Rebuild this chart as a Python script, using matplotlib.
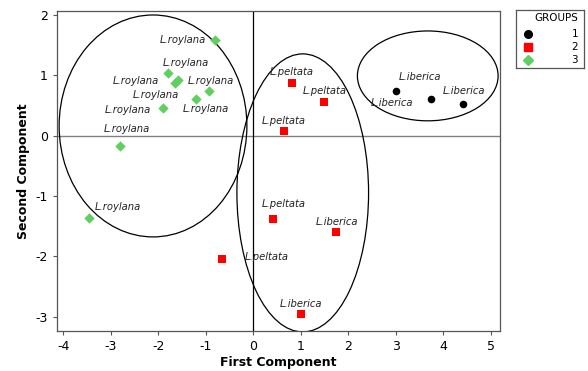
import matplotlib
matplotlib.use("Agg")
import matplotlib.pyplot as plt
from matplotlib.patches import Ellipse

plt.rcParams['font.family'] = ['DejaVu Sans']
plt.rcParams['axes.unicode_minus'] = False

# Group 1 (black circles)
g1_x = [3.00, 3.74, 4.42]
g1_y = [0.74, 0.61, 0.52]
g1_lab = ["L.iberica", "L.iberica", "L.iberica"]
# Group 2 (red squares)
g2_x = [-0.65, 0.81, 1.48, 0.64, 0.41, 1.75, 1.01]
g2_y = [-2.05, 0.87, 0.55, 0.07, -1.38, -1.60, -2.96]
g2_lab = ["L.peltata", "L.peltata", "L.peltata", "L.peltata", "L.peltata", "L.iberica", "L.iberica"]
# Group 3 (green diamonds)
g3_x = [-0.81, -1.79, -1.65, -1.58, -0.93, -1.20, -1.91, -2.80, -3.45]
g3_y = [1.585, 1.04, 0.87, 0.92, 0.74, 0.60, 0.45, -0.18, -1.36]
g3_lab = ["L.roylana"] * 9

# label offsets in pixels (dx right, dy up)
g1_off = [(-4, -12), (-11, 22), (1, 13)]
g2_off = [(44, 2), (0, 11), (1, 11), (0, 10), (11, 15), (0, 10), (0, 10)]
g3_off = [(-32, 0), (18, 10), (-39, 2), (-22, -15), (2, 10), (10, -10), (-35, -2), (7, 17), (29, 11)]

xticks = [-4, -3, -2, -1, 0, 1, 2, 3, 4, 5]
yticks = [-3, -2, -1, 0, 1, 2]

fig = plt.figure(figsize=(5.88, 3.71), dpi=100)
ax = fig.add_axes([57/588, 40/371, 443/588, 320/371])
ax.set_xlim(-4.13, 5.19)
ax.set_ylim(-3.24, 2.066)

ax.axhline(0, color='#808080', lw=1.0, zorder=1)
ax.axvline(0, color='black', lw=0.9, zorder=1)

ellipses = [((-2.11, 0.16), 3.95, 3.68), ((1.04, -0.95), 2.77, 4.61), ((3.67, 0.99), 2.96, 1.49)]
for (c, w, h) in ellipses:
    ax.add_patch(Ellipse(c, w, h, fill=False, ec='black', lw=0.9, zorder=2))

ax.scatter(g1_x, g1_y, marker='o', s=30, c='black', zorder=3, linewidths=0)
ax.scatter(g2_x, g2_y, marker='s', s=36, c='#ff0000', zorder=3, linewidths=0)
ax.scatter(g3_x, g3_y, marker='D', s=28, c='#5fcf5f', zorder=3, linewidths=0)

for xs, ys, labs, offs in [(g1_x, g1_y, g1_lab, g1_off), (g2_x, g2_y, g2_lab, g2_off), (g3_x, g3_y, g3_lab, g3_off)]:
    for x, y, l, o in zip(xs, ys, labs, offs):
        ax.annotate(l, (x, y), xytext=o, textcoords='offset pixels', ha='center', va='center',
                    fontsize=7.2, style='italic', color='#222222', zorder=4)

ax.set_xticks(xticks)
ax.set_yticks(yticks)
ax.tick_params(labelsize=9, direction='out', length=3, width=0.8, color='#555555')
for s in ax.spines.values():
    s.set_color('#555555')
    s.set_linewidth(0.9)
ax.set_xlabel('First Component', fontsize=9, fontweight='bold', labelpad=2)
ax.set_ylabel('Second Component', fontsize=9, fontweight='bold', labelpad=4)

# legend box
lax = fig.add_axes([516/588, 1 - 68/371, 68/588, 58/371])
lax.set_xlim(0, 68)
lax.set_ylim(58, 0)
lax.set_xticks([])
lax.set_yticks([])
for s in lax.spines.values():
    s.set_color('#555555')
    s.set_linewidth(0.9)
lax.text(62, 8, 'GROUPS', ha='right', va='center', fontsize=7.5)
lax.plot([12], [24], marker='o', ms=5.5, color='black', ls='none')
lax.plot([12], [37], marker='s', ms=5.5, color='#ff0000', ls='none')
lax.plot([12], [50], marker='D', ms=5, color='#5fcf5f', ls='none')
for yy, t in zip([24, 37, 50], ['1', '2', '3']):
    lax.text(62, yy, t, ha='right', va='center', fontsize=7.5)

fig.savefig('out.png', dpi=100)
